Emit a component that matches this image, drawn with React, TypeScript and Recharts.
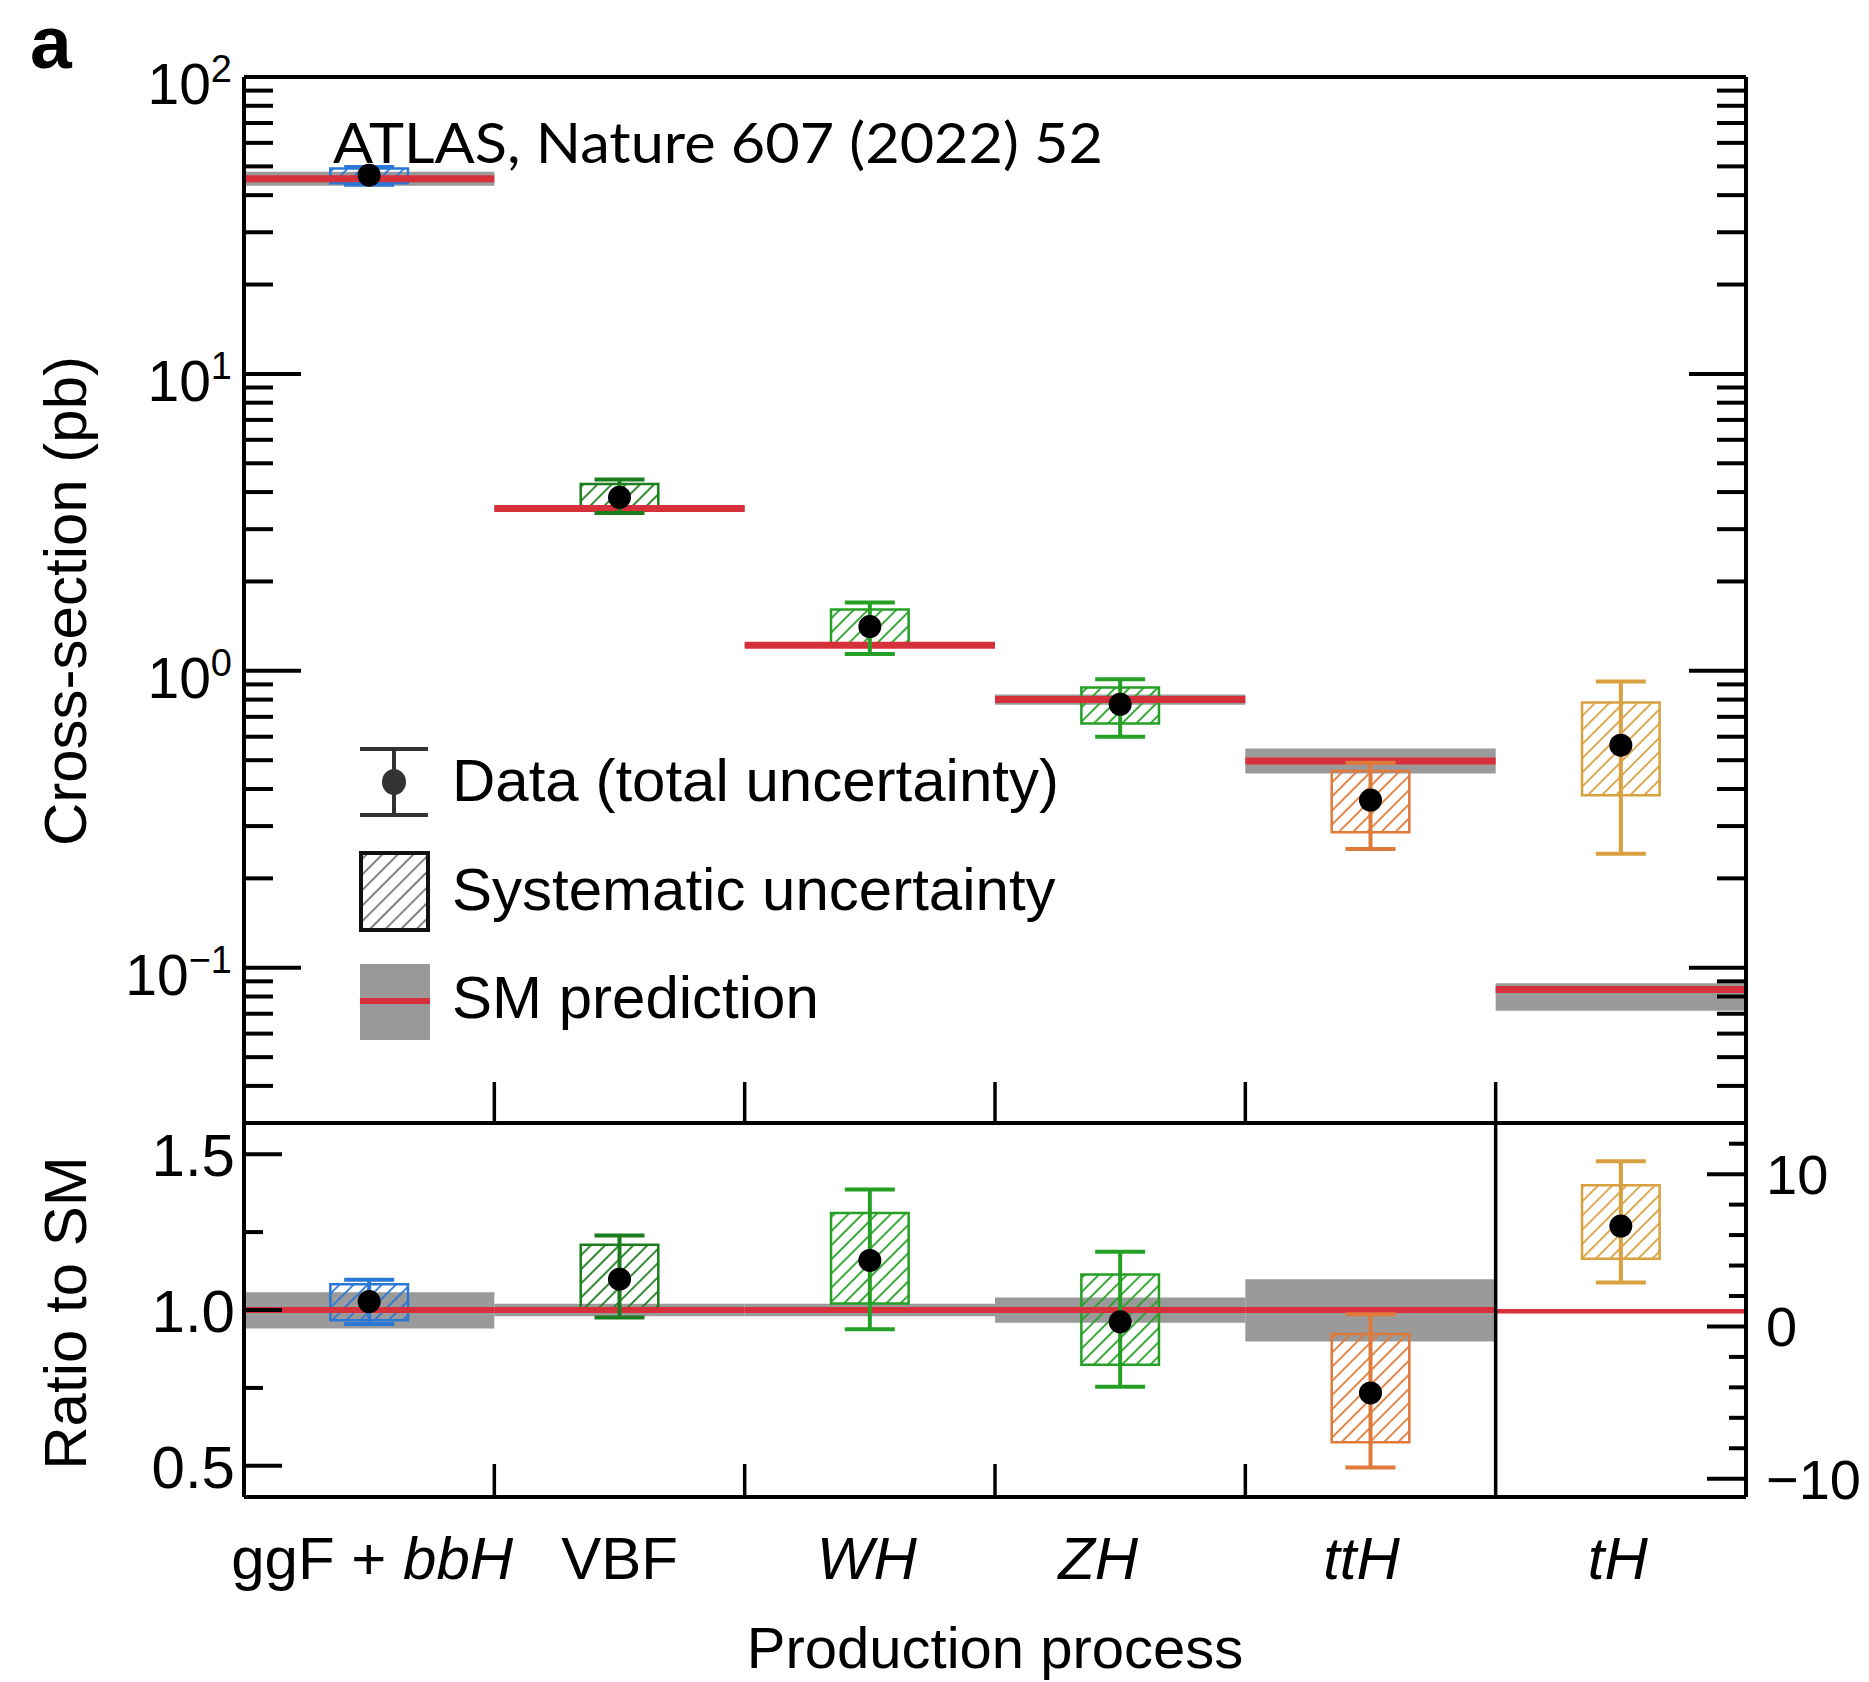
import React from 'react';
import {
  ComposedChart,
  XAxis,
  YAxis,
  Scatter,
  ErrorBar,
  ReferenceArea,
  ReferenceLine,
  Customized,
} from 'recharts';

const FONT = '"Liberation Sans", Arial, Helvetica, sans-serif';

// ---------------- data ----------------
const categories = ['ggF + bbH', 'VBF', 'WH', 'ZH', 'ttH', 'tH'];
const labelRoman = ['ggF + ', 'VBF', '', '', '', ''];
const labelItalic = ['bbH', '', 'WH', 'ZH', 'ttH', 'tH'];
const categoryCenters = [0.5, 1.5, 2.5, 3.5, 4.5, 5.5];
const categoryEdges = [0, 1, 2, 3, 4, 5, 6];

// upper panel: cross-section (pb)
const xsValue = [46.7, 3.84, 1.41, 0.771, 0.367, 0.562];
const xsTotLow = [43.4, 3.4, 1.14, 0.6, 0.251, 0.242];
const xsTotHigh = [49.8, 4.41, 1.7, 0.937, 0.49, 0.92];
const xsSysLow = [43.9, 3.49, 1.217, 0.665, 0.286, 0.381];
const xsSysHigh = [49.2, 4.26, 1.61, 0.878, 0.46, 0.782];
const xsSM = [45.4, 3.52, 1.22, 0.8, 0.497, 0.0845];
const xsSMLow = [43.0, 3.45, 1.195, 0.768, 0.451, 0.0717];
const xsSMHigh = [48.0, 3.59, 1.245, 0.832, 0.548, 0.0886];

// lower panel: ratio to SM (tH on the right-hand axis)
const ratioValue = [1.027, 1.099, 1.159, 0.962, 0.734, 6.59];
const ratioTotLow = [0.955, 0.976, 0.938, 0.754, 0.495, 2.88];
const ratioTotHigh = [1.097, 1.239, 1.387, 1.187, 0.986, 10.85];
const ratioSysLow = [0.967, 1.004, 1.021, 0.824, 0.576, 4.44];
const ratioSysHigh = [1.083, 1.209, 1.311, 1.114, 0.923, 9.27];
const ratioSMLow = [0.941, 0.98, 0.98, 0.959, 0.899, 1.0];
const ratioSMHigh = [1.057, 1.02, 1.02, 1.04, 1.099, 1.0];
const ratioSM = [1, 1, 1, 1, 1, 1];
const ratioAxis = ['l', 'l', 'l', 'l', 'l', 'r'];

// ticks
const xsDomain = [0.03, 100];
const xsMajorTicks = [0.1, 1, 10, 100];
const xsMajorExp = ['\u22121', '0', '1', '2'];
const xsMinorTicks = [
  0.03, 0.04, 0.05, 0.06, 0.07, 0.08, 0.09,
  0.2, 0.3, 0.4, 0.5, 0.6, 0.7, 0.8, 0.9,
  2, 3, 4, 5, 6, 7, 8, 9,
  20, 30, 40, 50, 60, 70, 80, 90,
];
const ratioDomain = [0.4, 1.6];
const ratioMajorTicks = [0.5, 1.0, 1.5];
const ratioMajorLabels = ['0.5', '1.0', '1.5'];
const ratioMinorTicks = [0.75, 1.25];
const tHDomain = [-11.2, 13.36];
const tHMajorTicks = [-10, 0, 10];
const tHMajorLabels = ['\u221210', '0', '10'];
const tHMinorTicks = [-8, -6, -4, -2, 2, 4, 6, 8, 12];

// ---------------- styles ----------------
const seriesColors = ['#2a78d6', '#1c7d1c', '#25a025', '#25a025', '#e07a3a', '#d9a040'];
const labelNudgePx = [3, 0, -3, -22, -9, -3];
const BOX_HALF = 0.155;
const AXIS = { stroke: '#000', strokeWidth: 4 };

const upperRows = categories.map((name, i) => ({
  name,
  x: categoryCenters[i],
  y: xsValue[i],
  err: [xsValue[i] - xsTotLow[i], xsTotHigh[i] - xsValue[i]],
}));
const lowerRows = categories.map((name, i) => ({
  name,
  x: categoryCenters[i],
  y: ratioValue[i],
  err: [ratioValue[i] - ratioTotLow[i], ratioTotHigh[i] - ratioValue[i]],
}));

// ---------------- tick renderers ----------------
const UpperLeftTick = (props: any) => {
  const { x, y, payload } = props;
  const k = xsMajorTicks.indexOf(payload.value);
  if (k >= 0) {
    return (
      <g>
        <line x1={x} x2={x + 57} y1={y} y2={y} stroke="#000" strokeWidth={4} />
        <text x={x - 12} y={y + 27} textAnchor="end" fontFamily={FONT} fontSize={57} fill="#000">
          10
          <tspan dy={-22} fontSize={38}>{xsMajorExp[k]}</tspan>
        </text>
      </g>
    );
  }
  return <line x1={x} x2={x + 29} y1={y} y2={y} stroke="#000" strokeWidth={4} />;
};

const UpperRightTick = (props: any) => {
  const { x, y, payload } = props;
  const major = xsMajorTicks.indexOf(payload.value) >= 0;
  return <line x1={x - (major ? 57 : 29)} x2={x} y1={y} y2={y} stroke="#000" strokeWidth={4} />;
};

const UpperBottomTick = (props: any) => {
  const { x, y } = props;
  return <line x1={x} x2={x} y1={y} y2={y - 41} stroke="#000" strokeWidth={3.5} />;
};

const LowerTopTick = (props: any) => {
  const { x, y } = props;
  return <line x1={x} x2={x} y1={y} y2={y + 32} stroke="#000" strokeWidth={3.5} />;
};

const LowerBottomTick = (props: any) => {
  const { x, y, payload } = props;
  const v = payload.value;
  const k = categoryCenters.indexOf(v);
  if (k >= 0) {
    return (
      <text x={x + labelNudgePx[k]} y={y + 82} textAnchor="middle" fontFamily={FONT} fontSize={60} fill="#000">
        {labelRoman[k]}
        {labelItalic[k] ? <tspan fontStyle="italic">{labelItalic[k]}</tspan> : null}
      </text>
    );
  }
  return <line x1={x} x2={x} y1={y} y2={y - 33} stroke="#000" strokeWidth={3.5} />;
};

const LowerLeftTick = (props: any) => {
  const { x, y, payload } = props;
  const k = ratioMajorTicks.indexOf(payload.value);
  if (k >= 0) {
    return (
      <g>
        <line x1={x} x2={x + 38} y1={y} y2={y} stroke="#000" strokeWidth={4} />
        <text x={x - 9} y={y + 22} textAnchor="end" fontFamily={FONT} fontSize={60} fill="#000">
          {ratioMajorLabels[k]}
        </text>
      </g>
    );
  }
  return <line x1={x} x2={x + 19} y1={y} y2={y} stroke="#000" strokeWidth={4} />;
};

const LowerRightTick = (props: any) => {
  const { x, y, payload } = props;
  const k = tHMajorTicks.indexOf(payload.value);
  if (k >= 0) {
    return (
      <g>
        <line x1={x - 39} x2={x} y1={y} y2={y} stroke="#000" strokeWidth={4} />
        <text x={x + 20} y={y + 20} textAnchor="start" fontFamily={FONT} fontSize={56} fill="#000">
          {tHMajorLabels[k]}
        </text>
      </g>
    );
  }
  return <line x1={x - 17} x2={x} y1={y} y2={y} stroke="#000" strokeWidth={4} />;
};

// ---------------- decorations ----------------
const Patterns = () => (
  <defs>
    {seriesColors.map((c, i) => (
      <pattern
        key={i}
        id={`hatch-${i}`}
        patternUnits="userSpaceOnUse"
        width={10}
        height={10}
        patternTransform="rotate(45)"
      >
        <line x1={5} y1={0} x2={5} y2={10} stroke={c} strokeWidth={1.8} />
      </pattern>
    ))}
    <pattern id="hatch-legend" patternUnits="userSpaceOnUse" width={11} height={11} patternTransform="rotate(45)">
      <line x1={5.5} y1={0} x2={5.5} y2={11} stroke="#555" strokeWidth={1.5} />
    </pattern>
  </defs>
);

const UpperDecor = () => (
  <g>
    <text x={30} y={68} fontFamily={FONT} fontWeight="bold" fontSize={75} fill="#000">a</text>
    <text x={333} y={163} fontFamily="Lato, 'Open Sans', sans-serif" fontSize={57} fill="#000" textLength={770} lengthAdjust="spacingAndGlyphs">
      ATLAS, Nature 607 (2022) 52
    </text>
    <text
      x={86}
      y={601}
      transform="rotate(-90, 86, 601)"
      textAnchor="middle"
      fontFamily={FONT}
      fontSize={60}
      fill="#000"
    >
      Cross-section (pb)
    </text>
    {/* legend */}
    <g>
      <line x1={360} x2={428} y1={749} y2={749} stroke="#333" strokeWidth={4} />
      <line x1={360} x2={428} y1={815} y2={815} stroke="#333" strokeWidth={4} />
      <line x1={394} x2={394} y1={749} y2={815} stroke="#333" strokeWidth={4} />
      <ellipse cx={394} cy={782} rx={12} ry={13} fill="#333" />
      <text x={452} y={801} fontFamily={FONT} fontSize={60} fill="#000">Data (total uncertainty)</text>

      <rect x={361} y={853} width={67} height={77} fill="url(#hatch-legend)" stroke="#111" strokeWidth={4} />
      <text x={452} y={910} fontFamily={FONT} fontSize={60} fill="#000">Systematic uncertainty</text>

      <rect x={360} y={964} width={70} height={76} fill="#999" />
      <line x1={360} x2={430} y1={1001} y2={1001} stroke="#d6303a" strokeWidth={6} />
      <text x={452} y={1018} fontFamily={FONT} fontSize={60} fill="#000">SM prediction</text>
    </g>
  </g>
);

const LowerDecor = () => (
  <g>
    <text
      x={86}
      y={191}
      transform="rotate(-90, 86, 191)"
      textAnchor="middle"
      fontFamily={FONT}
      fontSize={60}
      fill="#000"
    >
      Ratio to SM
    </text>
    <text x={995} y={546} textAnchor="middle" fontFamily={FONT} fontSize={58} fill="#000">
      Production process
    </text>
  </g>
);

// ---------------- charts ----------------
const UpperChart = () => (
  <ComposedChart width={1869} height={1124} margin={{ top: 76, right: 0, bottom: 0, left: 0 }}>
    <Patterns />
    <XAxis
      xAxisId="b"
      type="number"
      dataKey="x"
      domain={[0, 6]}
      allowDataOverflow
      ticks={[1, 2, 3, 4, 5]}
      interval={0}
      height={1}
      tickSize={0}
      tickMargin={0}
      tickLine={false}
      axisLine={AXIS}
      tick={UpperBottomTick}
    />
    <XAxis
      xAxisId="t"
      orientation="top"
      type="number"
      domain={[0, 6]}
      allowDataOverflow
      height={1}
      tick={false}
      tickLine={false}
      axisLine={AXIS}
    />
    <YAxis
      yAxisId="L"
      type="number"
      dataKey="y"
      scale="log"
      domain={xsDomain}
      allowDataOverflow
      ticks={[...xsMinorTicks, ...xsMajorTicks]}
      interval={0}
      width={244}
      tickSize={0}
      tickMargin={0}
      tickLine={false}
      axisLine={AXIS}
      tick={UpperLeftTick}
    />
    <YAxis
      yAxisId="R"
      orientation="right"
      type="number"
      scale="log"
      domain={xsDomain}
      allowDataOverflow
      ticks={[...xsMinorTicks, ...xsMajorTicks]}
      interval={0}
      width={123}
      tickSize={0}
      tickMargin={0}
      tickLine={false}
      axisLine={AXIS}
      tick={UpperRightTick}
    />
    {categories.map((c, i) => (
      <ReferenceArea
        key={`smb-${i}`}
        xAxisId="b"
        yAxisId="L"
        x1={categoryEdges[i]}
        x2={categoryEdges[i + 1]}
        y1={xsSMLow[i]}
        y2={xsSMHigh[i]}
        fill="#9a9a9a"
        fillOpacity={1}
        stroke="none"
      />
    ))}
    {categories.map((c, i) => (
      <ReferenceLine
        key={`sml-${i}`}
        xAxisId="b"
        yAxisId="L"
        segment={[
          { x: categoryEdges[i], y: xsSM[i] },
          { x: categoryEdges[i + 1], y: xsSM[i] },
        ]}
        stroke="#d6303a"
        strokeWidth={7}
      />
    ))}
    {categories.map((c, i) => (
      <ReferenceArea
        key={`sys-${i}`}
        xAxisId="b"
        yAxisId="L"
        x1={categoryCenters[i] - BOX_HALF}
        x2={categoryCenters[i] + BOX_HALF}
        y1={xsSysLow[i]}
        y2={xsSysHigh[i]}
        fill={`url(#hatch-${i})`}
        fillOpacity={1}
        stroke={seriesColors[i]}
        strokeWidth={2.5}
      />
    ))}
    {upperRows.map((row, i) => (
      <Scatter
        key={`pt-${i}`}
        name={row.name}
        xAxisId="b"
        yAxisId="L"
        data={[row]}
        dataKey="y"
        isAnimationActive={false}
        shape={(p: any) => <circle cx={p.cx} cy={p.cy} r={11.5} fill="#000" />}
      >
        <ErrorBar dataKey="err" direction="y" width={25} stroke={seriesColors[i]} strokeWidth={4} isAnimationActive={false} />
      </Scatter>
    ))}
    <Customized component={<UpperDecor />} />
  </ComposedChart>
);

const LowerChart = () => (
  <ComposedChart width={1869} height={560} margin={{ top: 0, right: 0, bottom: 0, left: 0 }}>
    <Patterns />
    <XAxis
      xAxisId="b"
      type="number"
      dataKey="x"
      domain={[0, 6]}
      allowDataOverflow
      ticks={[...categoryCenters, 1, 2, 3, 4]}
      interval={0}
      height={185}
      tickSize={0}
      tickMargin={0}
      tickLine={false}
      axisLine={AXIS}
      tick={LowerBottomTick}
    />
    <XAxis
      xAxisId="t"
      orientation="top"
      type="number"
      domain={[0, 6]}
      allowDataOverflow
      ticks={[1, 2, 3, 4]}
      interval={0}
      height={1}
      tickSize={0}
      tickMargin={0}
      tickLine={false}
      axisLine={AXIS}
      tick={LowerTopTick}
    />
    <YAxis
      yAxisId="l"
      type="number"
      dataKey="y"
      domain={ratioDomain}
      allowDataOverflow
      ticks={[...ratioMinorTicks, ...ratioMajorTicks]}
      interval={0}
      width={244}
      tickSize={0}
      tickMargin={0}
      tickLine={false}
      axisLine={AXIS}
      tick={LowerLeftTick}
    />
    <YAxis
      yAxisId="r"
      orientation="right"
      type="number"
      dataKey="y"
      domain={tHDomain}
      allowDataOverflow
      ticks={[...tHMinorTicks, ...tHMajorTicks]}
      interval={0}
      width={123}
      tickSize={0}
      tickMargin={0}
      tickLine={false}
      axisLine={AXIS}
      tick={LowerRightTick}
    />
    {categories.map((c, i) =>
      ratioSMHigh[i] > ratioSMLow[i] ? (
        <ReferenceArea
          key={`smb-${i}`}
          xAxisId="b"
          yAxisId={ratioAxis[i]}
          x1={categoryEdges[i]}
          x2={categoryEdges[i + 1]}
          y1={ratioSMLow[i]}
          y2={ratioSMHigh[i]}
          fill="#9a9a9a"
          fillOpacity={1}
          stroke="none"
        />
      ) : null
    )}
    {categories.map((c, i) => (
      <ReferenceLine
        key={`sml-${i}`}
        xAxisId="b"
        yAxisId={ratioAxis[i]}
        segment={[
          { x: categoryEdges[i], y: ratioSM[i] },
          { x: categoryEdges[i + 1], y: ratioSM[i] },
        ]}
        stroke="#d6303a"
        strokeWidth={i === 5 ? 4.5 : 6}
      />
    ))}
    <ReferenceLine xAxisId="b" yAxisId="l" x={categoryEdges[5]} stroke="#000" strokeWidth={3.5} />
    {categories.map((c, i) => (
      <ReferenceArea
        key={`sys-${i}`}
        xAxisId="b"
        yAxisId={ratioAxis[i]}
        x1={categoryCenters[i] - BOX_HALF}
        x2={categoryCenters[i] + BOX_HALF}
        y1={ratioSysLow[i]}
        y2={ratioSysHigh[i]}
        fill={`url(#hatch-${i})`}
        fillOpacity={1}
        stroke={seriesColors[i]}
        strokeWidth={2.5}
      />
    ))}
    {lowerRows.map((row, i) => (
      <Scatter
        key={`pt-${i}`}
        name={row.name}
        xAxisId="b"
        yAxisId={ratioAxis[i]}
        data={[row]}
        dataKey="y"
        isAnimationActive={false}
        shape={(p: any) => <circle cx={p.cx} cy={p.cy} r={11.5} fill="#000" />}
      >
        <ErrorBar dataKey="err" direction="y" width={25} stroke={seriesColors[i]} strokeWidth={4} isAnimationActive={false} />
      </Scatter>
    ))}
    <Customized component={<LowerDecor />} />
  </ComposedChart>
);

export default function App() {
  return (
    <div style={{ position: 'absolute', left: 0, top: 0, width: 1869, height: 1682, background: '#fff' }}>
      <div style={{ position: 'absolute', left: 0, top: 0 }}>
        <UpperChart />
      </div>
      <div style={{ position: 'absolute', left: 0, top: 1122 }}>
        <LowerChart />
      </div>
    </div>
  );
}
